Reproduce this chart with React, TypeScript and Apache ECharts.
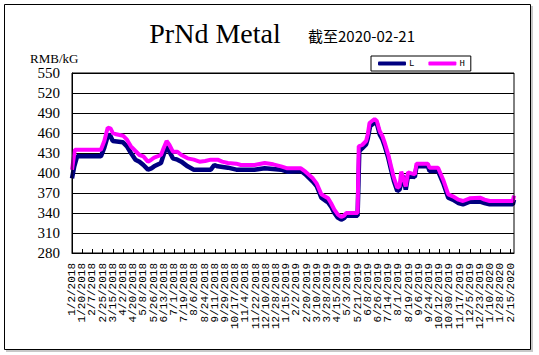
import React, { useEffect, useRef } from "react";
import * as echarts from "echarts";

// x values are day offsets since 2018-01-02
const lowDays = [0, 4, 9, 51, 57, 64, 68, 72, 90, 97, 104, 112, 119, 126, 134, 140, 145, 157, 162, 167, 172, 178, 186, 193, 204, 215, 230, 245, 251, 257, 275, 290, 322, 340, 369, 380, 404, 412, 425, 432, 440, 448, 452, 457, 463, 469, 475, 480, 484, 504, 507, 512, 519, 522, 526, 534, 538, 543, 548, 552, 558, 563, 568, 574, 578, 584, 589, 593, 605, 608, 628, 631, 646, 655, 664, 672, 682, 690, 702, 720, 728, 737, 778, 780];
const lowValues = [392, 410, 425, 425, 438, 458, 455, 448, 446, 440, 430, 420, 417, 412, 405, 407, 410, 415, 428, 440, 432, 422, 420, 417, 410, 405, 405, 405, 412, 410, 408, 405, 405, 407, 405, 402, 403, 398, 387, 380, 363, 358, 356, 350, 340, 333, 330, 332, 336, 336, 433, 437, 443, 452, 470, 476, 474, 458, 450, 440, 423, 405, 388, 373, 375, 396, 375, 396, 394, 410, 410, 403, 403, 385, 363, 360, 355, 353, 357, 357, 355, 353, 353, 360];

const highDays = [0, 5, 51, 57, 63, 68, 72, 78, 90, 97, 104, 112, 119, 126, 134, 140, 145, 157, 162, 167, 172, 178, 186, 193, 204, 215, 225, 235, 245, 257, 265, 275, 290, 298, 322, 340, 355, 369, 380, 404, 412, 425, 432, 440, 448, 452, 457, 463, 469, 475, 480, 484, 504, 506, 512, 519, 522, 525, 534, 538, 543, 548, 552, 558, 563, 568, 574, 578, 581, 589, 593, 605, 608, 628, 631, 646, 655, 664, 672, 682, 690, 702, 720, 728, 737, 778, 780];
const highValues = [405, 435, 435, 448, 468, 467, 460, 458, 456, 450, 440, 433, 427, 425, 417, 420, 423, 427, 438, 448, 442, 432, 432, 427, 422, 420, 417, 418, 420, 420, 417, 415, 414, 412, 412, 415, 413, 410, 407, 407, 402, 392, 384, 368, 364, 362, 355, 345, 338, 334, 336, 340, 340, 440, 442, 448, 458, 475, 481, 478, 463, 455, 445, 428, 410, 393, 378, 380, 402, 380, 401, 398, 414, 414, 408, 408, 390, 368, 365, 360, 358, 362, 363, 360, 358, 358, 366];

const yTicks = { min: 280, max: 550, step: 30 };
const xTicks = { min: 0, max: 780, step: 18 };
const baseDateUTC = Date.UTC(2018, 0, 2);

const titleText = "PrNd Metal";
const subTitleText = "截至2020-02-21";
const unitText = "RMB/kG";

function dayLabel(v: number): string {
  const d = new Date(baseDateUTC + Math.round(v) * 86400000);
  return `${d.getUTCMonth() + 1}/${d.getUTCDate()}/${d.getUTCFullYear()}`;
}

const xLabelStyle = {
  rotate: 90,
  margin: 10,
  fontSize: 11,
  fontFamily: "Liberation Mono",
  color: "#000",
};

export default function App() {
  const ref = useRef<HTMLDivElement>(null);
  useEffect(() => {
    if (!ref.current) return;
    const chart = echarts.init(ref.current, null, { renderer: "svg" });
    const low = lowDays.map((d, i) => [d, lowValues[i]]);
    const high = highDays.map((d, i) => [d, highValues[i]]);
    chart.setOption({
      animation: false,
      backgroundColor: "#fff",
      grid: { left: 72, top: 73, right: 25, bottom: 102, containLabel: false },
      legend: {
        left: 371,
        top: 56,
        padding: [3, 6, 3, 7],
        borderColor: "#000",
        borderWidth: 1,
        itemWidth: 28,
        itemHeight: 4,
        itemGap: 14,
        icon: "roundRect",
        textStyle: { fontSize: 9, color: "#000", fontFamily: "Liberation Mono", padding: [0, 0, 0, -2] },
        data: [
          { name: "L", itemStyle: { color: "#000080" } },
          { name: "H", itemStyle: { color: "#ff00ff" } },
        ],
      },
      xAxis: [
        {
          type: "value",
          position: "bottom",
          min: xTicks.min,
          max: xTicks.max,
          interval: xTicks.step,
          axisLine: { show: true, lineStyle: { color: "#000", width: 1 } },
          axisTick: { show: true, inside: true, length: 4, lineStyle: { color: "#000" } },
          splitLine: { show: false },
          axisLabel: {
            ...xLabelStyle,
            showMinLabel: false,
            showMaxLabel: false,
            formatter: (v: number) => (v % xTicks.step === 0 ? dayLabel(v) : ""),
          },
        },
        {
          type: "value",
          position: "bottom",
          min: xTicks.min,
          max: xTicks.max,
          interval: xTicks.max - xTicks.min,
          axisLine: { show: false },
          axisTick: { show: false },
          splitLine: { show: false },
          axisLabel: {
            ...xLabelStyle,
            showMinLabel: true,
            showMaxLabel: false,
            formatter: (v: number) => (v === xTicks.min ? dayLabel(v) : ""),
          },
        },
      ],
      yAxis: {
        type: "value",
        min: yTicks.min,
        max: yTicks.max,
        interval: yTicks.step,
        axisLine: { show: true, lineStyle: { color: "#000", width: 1 } },
        axisTick: { show: false },
        splitLine: { show: true, lineStyle: { color: "#000", width: 1 } },
        axisLabel: {
          margin: 12,
          fontSize: 15,
          fontFamily: "Liberation Serif",
          color: "#000",
        },
      },
      series: [
        {
          name: "L",
          type: "line",
          xAxisIndex: 0,
          data: low,
          symbol: "none",
          lineStyle: { color: "#000080", width: 4.5 },
          itemStyle: { color: "#000080" },
        },
        {
          name: "H",
          type: "line",
          xAxisIndex: 0,
          data: high,
          symbol: "none",
          lineStyle: { color: "#ff00ff", width: 4 },
          itemStyle: { color: "#ff00ff" },
        },
      ],
      graphic: [
        {
          type: "rect",
          shape: { x: 6, y: 6, width: 527, height: 346 },
          style: { fill: "#c8c8c8" },
          z: -10,
        },
        {
          type: "rect",
          shape: { x: 4.5, y: 4.5, width: 526, height: 345 },
          style: { fill: "#fff", stroke: "#000", lineWidth: 1 },
          z: -9,
        },
        {
          type: "rect",
          shape: { x: 72, y: 73, width: 442, height: 180 },
          style: { fill: "none", stroke: "#000", lineWidth: 1 },
          z: 10,
        },
        {
          type: "text",
          x: 215,
          y: 33,
          style: {
            text: titleText,
            font: "28px 'Liberation Serif'",
            fill: "#000",
            align: "center",
            verticalAlign: "middle",
          },
        },
        {
          type: "text",
          x: 308,
          y: 35,
          style: {
            text: subTitleText,
            font: "15px 'Noto Sans CJK SC'",
            fill: "#000",
            align: "left",
            verticalAlign: "middle",
          },
        },
        {
          type: "text",
          x: 30,
          y: 58,
          style: {
            text: unitText,
            font: "13px 'Liberation Serif'",
            fill: "#000",
            align: "left",
            verticalAlign: "middle",
          },
        },
      ],
    });
    return () => chart.dispose();
  }, []);
  return (
    <div
      ref={ref}
      style={{ position: "fixed", left: 0, top: 0, width: 539, height: 355 }}
    />
  );
}
